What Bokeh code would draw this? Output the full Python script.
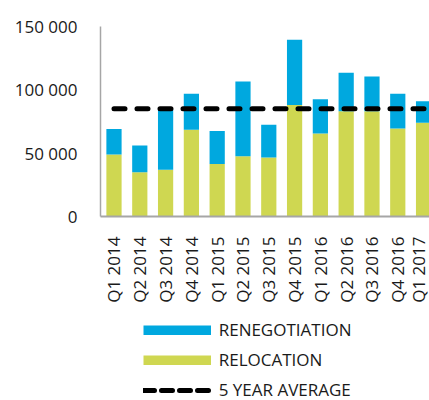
import math
from bokeh.plotting import figure
from bokeh.layouts import column
from bokeh.models import ColumnDataSource, Range1d, FixedTicker, Legend, LegendItem
from bokeh.embed import file_html
from bokeh.resources import INLINE

quarters = ["Q1 2014", "Q2 2014", "Q3 2014", "Q4 2014", "Q1 2015", "Q2 2015",
            "Q3 2015", "Q4 2015", "Q1 2016", "Q2 2016", "Q3 2016", "Q4 2016", "Q1 2017"]
relocation = [49000, 35000, 37000, 68500, 41500, 47500, 46500, 88000, 65500, 83000, 83000, 69500, 74000]
renegotiation = [20000, 21000, 47500, 28500, 26000, 59000, 26000, 51500, 27000, 30500, 27500, 27500, 17000]
five_year_average = 85000
y_ticks = [0, 50000, 100000, 150000]
y_tick_labels = ["0", "50 000", "100 000", "150 000"]
series_labels = ["RENEGOTIATION", "RELOCATION", "5 YEAR AVERAGE"]

BLUE = "#00A8DF"
GREEN = "#CFD751"
FONT = "Open Sans"

xs = list(range(len(quarters)))
source = ColumnDataSource(dict(x=xs, quarter=quarters,
                               relocation=relocation, renegotiation=renegotiation))

p = figure(width=429, height=310, output_backend="svg", toolbar_location=None,
           x_range=Range1d(-0.523, 12.23), y_range=Range1d(0, 150000),
           min_border_left=100, min_border_right=0, min_border_top=26, min_border_bottom=94)
p.outline_line_color = None
p.xgrid.visible = False
p.ygrid.visible = False

p.vbar_stack(["relocation", "renegotiation"], x="x", width=0.59,
             color=[GREEN, BLUE], line_color=None, source=source)

p.line(x=[xs[0], len(quarters)], y=[five_year_average] * 2, line_color="black",
       line_width=5, line_dash="11 12", line_cap="round")

# axes
p.yaxis.ticker = FixedTicker(ticks=y_ticks)
p.yaxis.major_label_overrides = {t: l for t, l in zip(y_ticks, y_tick_labels)}
p.yaxis.major_tick_line_color = None
p.yaxis.minor_tick_line_color = None
p.yaxis.axis_line_color = "#A6A6A6"
p.yaxis.axis_line_width = 1.5
p.yaxis.major_label_standoff = 17
p.yaxis.major_label_text_font = FONT
p.yaxis.major_label_text_font_size = "17px"
p.yaxis.major_label_text_color = "#1a1a1a"

p.xaxis.ticker = FixedTicker(ticks=xs)
p.xaxis.major_label_overrides = {i: q for i, q in zip(xs, quarters)}
p.xaxis.major_label_orientation = math.pi / 2
p.xaxis.major_tick_line_color = None
p.xaxis.minor_tick_line_color = None
p.xaxis.axis_line_color = "#A6A6A6"
p.xaxis.axis_line_width = 2
p.xaxis.major_label_standoff = 14
p.xaxis.major_label_text_font = FONT
p.xaxis.major_label_text_font_size = "17px"
p.xaxis.major_label_text_color = "#1a1a1a"

# legend panel
lg = figure(width=429, height=90, output_backend="svg", toolbar_location=None,
            x_range=Range1d(0, 1), y_range=Range1d(0, 1),
            x_axis_type=None, y_axis_type=None,
            min_border_left=0, min_border_right=0, min_border_top=0, min_border_bottom=0)
lg.outline_line_color = None
lg.xgrid.visible = False
lg.ygrid.visible = False

nan = float("nan")
r_ren = lg.line(x=[nan], y=[nan], line_color=BLUE, line_width=10, line_cap="butt")
r_rel = lg.line(x=[nan], y=[nan], line_color=GREEN, line_width=10, line_cap="butt")
r_avg = lg.line(x=[nan], y=[nan], line_color="black", line_width=5,
                line_dash="11 7", line_cap="round")

legend = Legend(items=[LegendItem(label=series_labels[0], renderers=[r_ren]),
                       LegendItem(label=series_labels[1], renderers=[r_rel]),
                       LegendItem(label=series_labels[2], renderers=[r_avg])],
                location=(42.7, -1), orientation="vertical",
                glyph_width=68, glyph_height=10, label_height=21, spacing=7,
                label_standoff=8, padding=0, margin=0,
                border_line_alpha=0, background_fill_alpha=0,
                label_text_font=FONT, label_text_font_size="17px",
                label_text_color="#1a1a1a")
lg.add_layout(legend, "center")

layout = column(p, lg, spacing=0)
open("out.html", "w").write(file_html(layout, INLINE))
